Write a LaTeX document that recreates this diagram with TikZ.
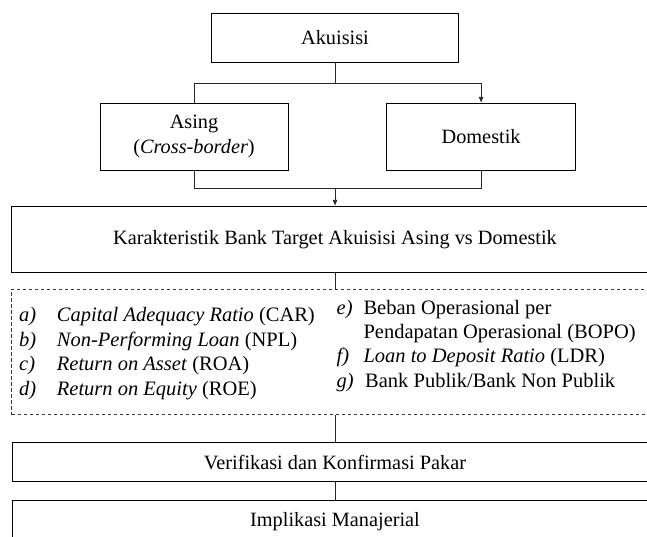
\documentclass[tikz,border=0pt]{standalone}
\usepackage{fontspec}
\setmainfont{Liberation Serif}
\usetikzlibrary{arrows.meta}
\begin{document}
\begin{tikzpicture}[x=1pt,y=-1pt,
  box/.style={draw=black, line width=0.8pt, inner sep=0pt, align=center, font=\fontsize{20.3}{25}\selectfont},
  dbox/.style={draw=black!80, line width=0.8pt, dash pattern=on 3.5pt off 2.5pt, inner sep=0pt},
  conn/.style={draw=black!85, line width=0.8pt},
  arr/.style={conn, -{Latex[length=6pt,width=5pt]}},
  txt/.style={inner sep=0pt, anchor=base west, font=\fontsize{20.5}{24}\selectfont}]
\useasboundingbox (0,0) rectangle (647,536);
\clip (0,0) rectangle (647,536);
\fill[white] (0,0) rectangle (647,536);

\node[box, minimum width=247.5pt, minimum height=49pt] (akui) at (335,37.8) {Akuisisi};
\node[box, minimum width=188pt, minimum height=67pt] (asing) at (194,136.8) {Asing\\(\textit{Cross-border})};
\node[box, minimum width=189pt, minimum height=67pt] (dom) at (481.1,136.8) {Domestik};
\node[box, minimum width=646.8pt, minimum height=65.7pt] (kar) at (335,239.15) {Karakteristik Bank Target Akuisisi Asing vs Domestik};
\node[dbox, minimum width=646.6pt, minimum height=125.5pt] (list) at (335,351.75) {};
\node[box, minimum width=646pt, minimum height=38.6pt] (ver) at (335,462) {Verifikasi dan Konfirmasi Pakar};
\node[box, minimum width=646pt, minimum height=44pt] (imp) at (335,522) {Implikasi Manajerial};

% list content
\node[txt] (la) at (19,321) {\textit{a)}};
\node[txt] (ta) at (56.7,321) {\textit{Capital Adequacy Ratio} (CAR)};
\node[txt] (lb) at (19,346) {\textit{b)}};
\node[txt] (tb) at (56.7,346) {\textit{Non-Performing Loan} (NPL)};
\node[txt] (lc) at (19,370.5) {\textit{c)}};
\node[txt] (tc) at (56.7,370.5) {\textit{Return on Asset} (ROA)};
\node[txt] (ld) at (19,395) {\textit{d)}};
\node[txt] (td) at (56.7,395) {\textit{Return on Equity} (ROE)};

\node[txt] (le) at (336.5,314) {\textit{e)}};
\node[txt] (te) at (363.3,314) {Beban Operasional per};
\node[txt] (te2) at (363.3,338) {Pendapatan Operasional (BOPO)};
\node[txt] (lf) at (336.5,362.5) {\textit{f)}};
\node[txt] (tf) at (363.3,362.5) {\textit{Loan to Deposit Ratio} (LDR)};
\node[txt] (lg) at (336.5,387) {\textit{g)}};
\node[txt] (tg) at (365,387) {Bank Publik/Bank Non Publik};

% connectors
\coordinate (j1) at (335,83.3);
\coordinate (j2) at (335,188.3);
\draw[conn] (akui.south) -- (j1);
\draw[conn] (asing.north) |- (j1);
\draw[arr] (j1) -| (dom.north);
\draw[conn] (asing.south) |- (j2) -| (dom.south);
\draw[arr] (j2) -- (kar.north);
\draw[conn] (kar.south) -- (list.north);
\draw[conn] (list.south) -- (ver.north);
\draw[conn] (ver.south) -- (imp.north);
\end{tikzpicture}
\end{document}
